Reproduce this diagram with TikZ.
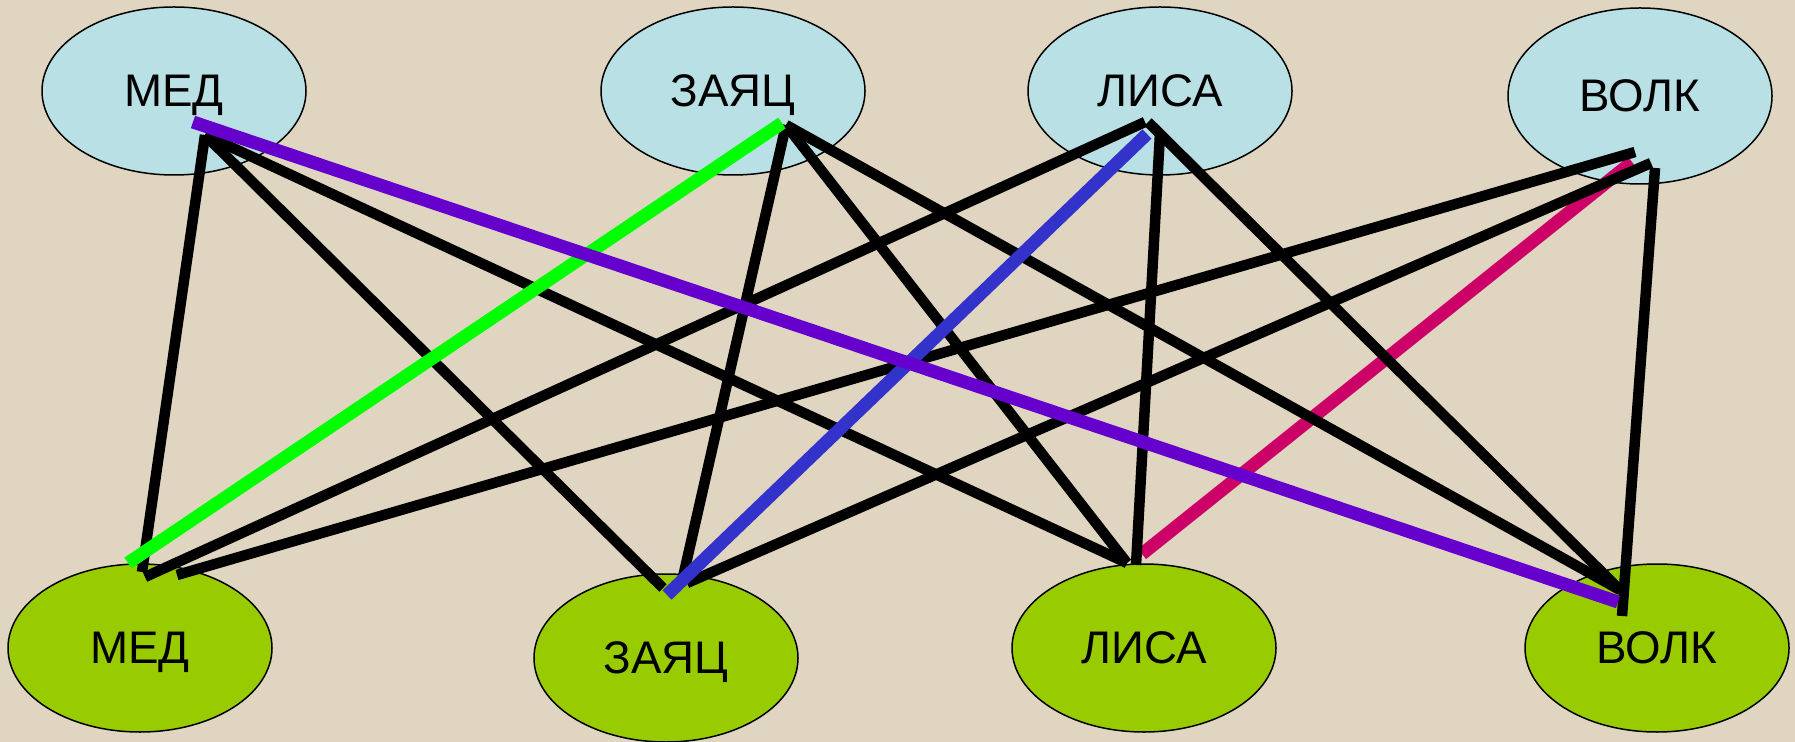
\documentclass[tikz,border=0pt]{standalone}
\usepackage{fontspec}
\setmainfont{Liberation Sans}
\usetikzlibrary{shapes.geometric}

\definecolor{canvas}{RGB}{224,213,192}
\definecolor{topblue}{RGB}{185,224,228}
\definecolor{botgreen}{RGB}{153,204,0}
\definecolor{lgreen}{RGB}{0,255,0}
\definecolor{lblue}{RGB}{51,51,204}
\definecolor{lpurple}{RGB}{102,0,204}
\definecolor{lmagenta}{RGB}{204,0,102}

\begin{document}
\begin{tikzpicture}[x=0.1mm, y=-0.1mm,
  animal/.style={ellipse, draw, line width=0.15mm, minimum width=26.4mm, minimum height=16.8mm, inner sep=0pt, text depth=0pt, font=\fontsize{13}{15}\selectfont},
  topnode/.style={animal, fill=topblue},
  botnode/.style={animal, fill=botgreen},
  link/.style={line width=1.05mm},
  hilite/.style={line width=1.3mm}]
  \useasboundingbox (0,0) rectangle (1795,742);
  \fill[canvas] (0,0) rectangle (1795,742);

  \node[topnode] (tmed) at (174,91) {МЕД};
  \node[topnode] (tzayac) at (733,91) {ЗАЯЦ};
  \node[topnode] (tlisa) at (1160,91) {ЛИСА};
  \node[topnode, minimum height=17.6mm] (tvolk) at (1640,96) {ВОЛК};
  \node[botnode] (bmed) at (140,648) {МЕД};
  \node[botnode] (bzayac) at (666,658) {ЗАЯЦ};
  \node[botnode] (blisa) at (1144,648) {ЛИСА};
  \node[botnode] (bvolk) at (1657,648) {ВОЛК};

  \draw[hilite, lmagenta] ([shift={(-8,66)}]tvolk.center) -- ([shift={(-2,-94)}]blisa.center);
  % black links
  \draw[link] ([shift={(31,44)}]tmed.center) -- ([shift={(2,-76)}]bmed.center);
  \draw[link] ([shift={(31,44)}]tmed.center) -- ([shift={(-3,-70)}]bzayac.center);
  \draw[link] ([shift={(31,44)}]tmed.center) -- ([shift={(-17,-85)}]blisa.center);
  \draw[link] ([shift={(53,34)}]tzayac.center) -- ([shift={(17,-81)}]bzayac.center);
  \draw[link] ([shift={(53,34)}]tzayac.center) -- ([shift={(-17,-85)}]blisa.center);
  \draw[link] ([shift={(53,34)}]tzayac.center) -- ([shift={(-37,-58)}]bvolk.center);
  \draw[link] ([shift={(-15,31)}]tlisa.center) -- ([shift={(5,-71)}]bmed.center);
  \draw[link] ([shift={(0,42)}]tlisa.center) -- ([shift={(-8,-83)}]blisa.center);
  \draw[link] ([shift={(-12,31)}]tlisa.center) -- ([shift={(-37,-58)}]bvolk.center);
  \draw[link] ([shift={(-5,56)}]tvolk.center) -- ([shift={(37,-73)}]bmed.center);
  \draw[link] ([shift={(11,67)}]tvolk.center) -- ([shift={(21,-75)}]bzayac.center);
  \draw[link] ([shift={(15,72)}]tvolk.center) -- ([shift={(-35,-32)}]bvolk.center);
  % coloured links
  \draw[hilite, lgreen] ([shift={(49,32)}]tzayac.center) -- ([shift={(-12,-85)}]bmed.center);
  \draw[hilite, lblue] ([shift={(-13,43)}]tlisa.center) -- ([shift={(1,-63)}]bzayac.center);
  \draw[hilite, lpurple] ([shift={(19,31)}]tmed.center) -- ([shift={(-39,-46)}]bvolk.center);
\end{tikzpicture}
\end{document}
